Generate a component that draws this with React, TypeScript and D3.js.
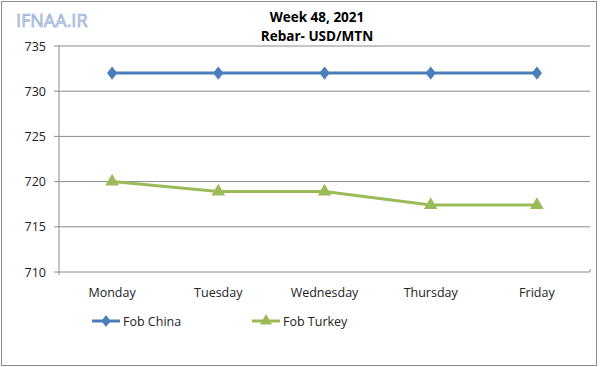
import React, { useEffect, useRef } from 'react';
import { select, scaleBand, scaleLinear, line, symbol, symbolDiamond, symbolTriangle } from 'd3';

const days = ['Monday', 'Tuesday', 'Wednesday', 'Thursday', 'Friday'];
const fobChina = [732, 732, 732, 732, 732];
const fobTurkey = [720, 718.9, 718.9, 717.4, 717.4];
const yTicks = [710, 715, 720, 725, 730, 735];
const titleLines = ['Week 48, 2021', 'Rebar- USD/MTN'];

const BLUE = '#4a7ebb';
const GREEN = '#9bbb59';
const FONT = "'Open Sans', 'Noto Sans', sans-serif";

const App: React.FC = () => {
  const svgRef = useRef<SVGSVGElement | null>(null);

  useEffect(() => {
    if (!svgRef.current) return;
    const svg = select(svgRef.current);
    svg.selectAll('*').remove();

    const width = 600;
    const height = 367;
    const margin = { top: 46, right: 10, bottom: 95, left: 59 };

    const x = scaleBand<string>()
      .domain(days)
      .range([margin.left, width - margin.right]);
    const y = scaleLinear()
      .domain([710, 735])
      .range([height - margin.bottom, margin.top]);

    // outer frame
    svg.append('rect')
      .attr('x', 1.5).attr('y', 1.5)
      .attr('width', width - 5).attr('height', height - 3)
      .attr('fill', '#fff').attr('stroke', '#8c8c8c');

    // watermark
    svg.append('text')
      .attr('x', 16).attr('y', 27)
      .attr('font-family', FONT).attr('font-size', 18)
      .attr('fill', '#c9daf0').attr('stroke', '#8aa6cf').attr('stroke-width', 0.6)
      .text('IFNAA.IR');

    // title
    titleLines.forEach((t, i) => {
      svg.append('text')
        .attr('x', 317).attr('y', 22 + i * 19)
        .attr('text-anchor', 'middle')
        .attr('font-family', FONT).attr('font-size', 13.5).attr('font-weight', 'bold')
        .attr('fill', '#000')
        .text(t);
    });

    // gridlines + y ticks
    yTicks.forEach((v) => {
      svg.append('line')
        .attr('x1', margin.left - 5).attr('x2', width - margin.right)
        .attr('y1', y(v)).attr('y2', y(v))
        .attr('stroke', '#8a8a8a').attr('stroke-width', 1);
      svg.append('text')
        .attr('x', 46).attr('y', y(v) + 4.5)
        .attr('text-anchor', 'end')
        .attr('font-family', FONT).attr('font-size', 12.5)
        .attr('fill', '#222')
        .text(v);
    });

    // y axis line
    svg.append('line')
      .attr('x1', margin.left).attr('x2', margin.left)
      .attr('y1', margin.top).attr('y2', y(710) + 3)
      .attr('stroke', '#8a8a8a');
    svg.append('line')
      .attr('x1', width - margin.right).attr('x2', width - margin.right)
      .attr('y1', y(710) - 3).attr('y2', y(710))
      .attr('stroke', '#8a8a8a');

    // x labels
    days.forEach((d) => {
      svg.append('text')
        .attr('x', x(d)! + x.bandwidth() / 2).attr('y', y(710) + 25)
        .attr('text-anchor', 'middle')
        .attr('font-family', FONT).attr('font-size', 12.5)
        .attr('fill', '#222')
        .text(d);
    });

    const cx = (i: number) => x(days[i])! + x.bandwidth() / 2;
    const series = [
      { name: 'Fob China', values: fobChina, color: BLUE, sym: symbolDiamond, size: 50, sx: 1.35 },
      { name: 'Fob Turkey', values: fobTurkey, color: GREEN, sym: symbolTriangle, size: 80, sx: 1 },
    ];

    series.forEach((s) => {
      const path = line<number>()
        .x((_, i) => cx(i))
        .y((v) => y(v));
      svg.append('path')
        .attr('d', path(s.values))
        .attr('fill', 'none')
        .attr('stroke', s.color).attr('stroke-width', 3);
      svg.selectAll(null)
        .data(s.values)
        .enter()
        .append('path')
        .attr('transform', (v, i) => `translate(${cx(i)},${y(v)}) scale(${s.sx},1)`)
        .attr('d', symbol().type(s.sym).size(s.size)()!)
        .attr('fill', s.color);
    });

    // legend
    const legendX = [92, 252];
    series.forEach((s, i) => {
      const lx = legendX[i];
      const ly = 321;
      svg.append('line')
        .attr('x1', lx).attr('x2', lx + 28)
        .attr('y1', ly).attr('y2', ly)
        .attr('stroke', s.color).attr('stroke-width', 3);
      svg.append('path')
        .attr('transform', `translate(${lx + 14},${ly}) scale(${s.sx},1)`)
        .attr('d', symbol().type(s.sym).size(s.size * 0.8)()!)
        .attr('fill', s.color);
      svg.append('text')
        .attr('x', lx + 31).attr('y', ly + 4.5)
        .attr('font-family', FONT).attr('font-size', 12.5)
        .attr('fill', '#222')
        .text(s.name);
    });
  }, []);

  return (
    <svg
      ref={svgRef}
      width={600}
      height={367}
      style={{ position: 'absolute', left: 0, top: 0, background: '#fff' }}
    />
  );
};

export default App;
